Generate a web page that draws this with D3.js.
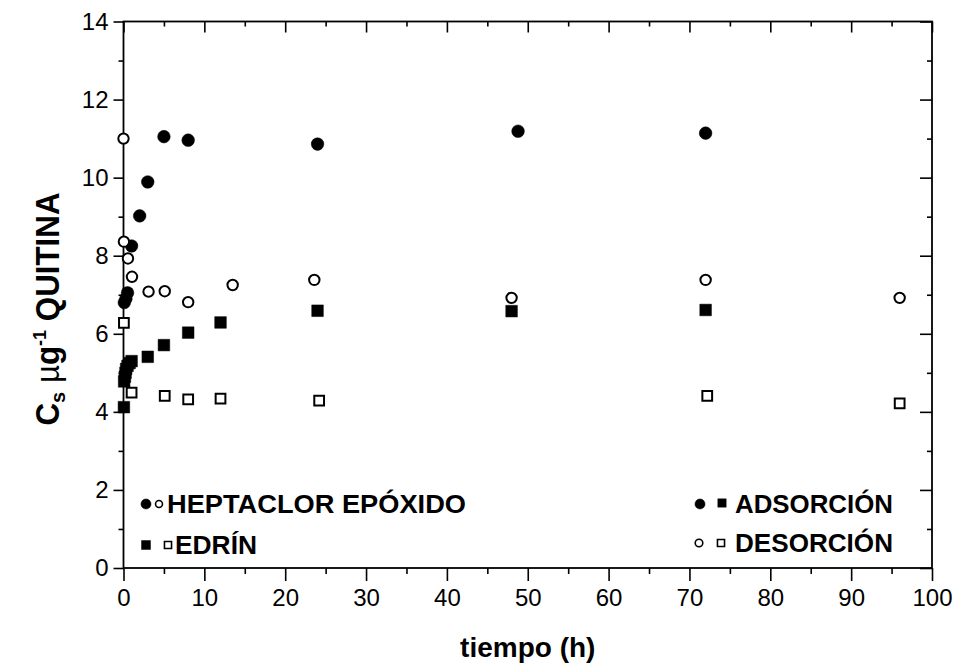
<!DOCTYPE html>
<html>
<head>
<meta charset="utf-8">
<script src="https://cdn.jsdelivr.net/npm/d3@7"></script>
<style>
  body { margin: 0; background: #fff; }
  svg { display: block; }
</style>
</head>
<body>
<svg id="chart" width="960" height="667"></svg>
<script>
// heptaclor epóxido - adsorción (filled circles)
let hepAdsT = [0.1, 0.3, 0.5, 1, 2, 3, 5, 8, 24, 48.8, 72]
let hepAdsC = [6.8, 6.9, 7.05, 8.25, 9.02, 9.89, 11.05, 10.96, 10.86, 11.19, 11.14]
// heptaclor epóxido - desorción (open circles)
let hepDesT = [0, 0.05, 0.55, 1.05, 3.1, 5.1, 8, 13.5, 23.6, 48, 72, 96]
let hepDesC = [11.0, 8.36, 7.93, 7.46, 7.08, 7.09, 6.81, 7.25, 7.38, 6.92, 7.38, 6.92]
// edrín - adsorción (filled squares)
let edrAdsT = [0.05, 0.08, 0.17, 0.25, 0.33, 0.5, 0.75, 1, 3, 5, 8, 12, 24, 48, 72]
let edrAdsC = [4.12, 4.78, 4.9, 5.0, 5.1, 5.18, 5.25, 5.3, 5.41, 5.71, 6.03, 6.29, 6.59, 6.58, 6.61]
// edrín - desorción (open squares)
let edrDesT = [0.05, 1, 5.1, 8, 12, 24.2, 72.2, 96]
let edrDesC = [6.28, 4.49, 4.41, 4.32, 4.34, 4.29, 4.41, 4.22]

let xMajor = d3.range(0, 101, 10)
let xMinor = d3.range(5, 100, 10)
let yMajor = d3.range(0, 15, 2)
let yMinor = d3.range(1, 14, 2)

let svg = d3.select('#chart')
let x = d3.scaleLinear().domain([0, 100]).range([123.5, 932])
let y = d3.scaleLinear().domain([0, 14]).range([568, 21.5])

let tickFont = '"Liberation Sans", Arial, sans-serif'
let boldFont = '"Liberation Sans", Arial, sans-serif'

function styleAxis(g, labels) {
  g.select('.domain').remove()
  g.selectAll('line').attr('stroke', '#000').attr('stroke-width', 1.6)
  g.attr('font-family', tickFont).attr('font-size', 24)
  g.selectAll('text').attr('fill', '#000')
  if (!labels) g.selectAll('text').remove()
}

// bottom
svg.append('g').attr('transform', `translate(0,${y(0)})`)
  .call(d3.axisBottom(x).tickValues(xMajor).tickSize(13).tickPadding(8))
  .call(g => styleAxis(g, true))
svg.append('g').attr('transform', `translate(0,${y(0)})`)
  .call(d3.axisBottom(x).tickValues(xMinor).tickSize(6).tickFormat(''))
  .call(g => styleAxis(g, false))
// top
svg.append('g').attr('transform', `translate(0,${y(14)})`)
  .call(d3.axisTop(x).tickValues(xMajor).tickSize(-11).tickFormat(''))
  .call(g => styleAxis(g, false))
svg.append('g').attr('transform', `translate(0,${y(14)})`)
  .call(d3.axisTop(x).tickValues(xMinor).tickSize(-5).tickFormat(''))
  .call(g => styleAxis(g, false))
// left
svg.append('g').attr('transform', `translate(${x(0)},0)`)
  .call(d3.axisLeft(y).tickValues(yMajor).tickSize(10).tickPadding(5))
  .call(g => styleAxis(g, true))
svg.append('g').attr('transform', `translate(${x(0)},0)`)
  .call(d3.axisLeft(y).tickValues(yMinor).tickSize(5).tickFormat(''))
  .call(g => styleAxis(g, false))
// right
svg.append('g').attr('transform', `translate(${x(100)},0)`)
  .call(d3.axisRight(y).tickValues(yMajor).tickSize(-12).tickFormat(''))
  .call(g => styleAxis(g, false))
svg.append('g').attr('transform', `translate(${x(100)},0)`)
  .call(d3.axisRight(y).tickValues(yMinor).tickSize(-5).tickFormat(''))
  .call(g => styleAxis(g, false))

// frame
svg.append('rect')
  .attr('x', x(0)).attr('y', y(14))
  .attr('width', x(100) - x(0)).attr('height', y(0) - y(14))
  .attr('fill', 'none').attr('stroke', '#000').attr('stroke-width', 1.8)

// series
let series = [
  { t: hepAdsT, c: hepAdsC, type: d3.symbolCircle, size: 125, fill: '#000' },
  { t: hepDesT, c: hepDesC, type: d3.symbolCircle, size: 85, fill: 'none' },
  { t: edrAdsT, c: edrAdsC, type: d3.symbolSquare, size: 135, fill: '#000' },
  { t: edrDesT, c: edrDesC, type: d3.symbolSquare, size: 95, fill: 'none' },
]

let plot = svg.append('g')
series.forEach(s => {
  let sym = d3.symbol().type(s.type).size(s.size)
  plot.append('g').selectAll('path')
    .data(s.t.map((t, i) => [t, s.c[i]]))
    .join('path')
    .attr('transform', d => `translate(${x(d[0])},${y(d[1])})`)
    .attr('d', sym())
    .attr('fill', s.fill === 'none' ? '#fff' : s.fill)
    .attr('stroke', '#000')
    .attr('stroke-width', s.fill === 'none' ? 2 : 0.5)
})

// legend
let legend = svg.append('g')
function marker(type, size, filled, cx, cy) {
  legend.append('path')
    .attr('transform', `translate(${cx},${cy})`)
    .attr('d', d3.symbol().type(type).size(size)())
    .attr('fill', filled ? '#000' : '#fff')
    .attr('stroke', '#000')
    .attr('stroke-width', filled ? 0.5 : 1.6)
}
function label(text, lx, ly, w) {
  legend.append('text')
    .attr('x', lx).attr('y', ly)
    .attr('font-family', boldFont).attr('font-weight', 'bold').attr('font-size', 26)
    .attr('textLength', w).attr('lengthAdjust', 'spacingAndGlyphs')
    .text(text)
}
marker(d3.symbolCircle, 80, true, 146, 504)
marker(d3.symbolCircle, 38, false, 159, 504)
label('HEPTACLOR EPÓXIDO', 167, 513, 299)
marker(d3.symbolSquare, 80, true, 146, 545)
marker(d3.symbolSquare, 50, false, 168, 545)
label('EDRÍN', 175, 554, 82)

marker(d3.symbolCircle, 80, true, 700, 504)
marker(d3.symbolSquare, 70, true, 722, 503)
label('ADSORCIÓN', 735, 513, 158)
marker(d3.symbolCircle, 45, false, 699, 543)
marker(d3.symbolSquare, 50, false, 721, 543)
label('DESORCIÓN', 735, 552, 158)

// axis titles
svg.append('text')
  .attr('x', x(50)).attr('y', 657)
  .attr('text-anchor', 'middle')
  .attr('font-family', boldFont).attr('font-weight', 'bold').attr('font-size', 28)
  .text('tiempo (h)')

let yTitle = svg.append('text')
  .attr('transform', 'translate(59,309) rotate(-90)')
  .attr('text-anchor', 'middle')
  .attr('font-family', boldFont).attr('font-weight', 'bold').attr('font-size', 33)
  .attr('textLength', 233).attr('lengthAdjust', 'spacingAndGlyphs')
yTitle.append('tspan').text('C')
yTitle.append('tspan').attr('font-size', 21).attr('dy', 6).text('s')
yTitle.append('tspan').attr('dy', -6).attr('font-weight', 'normal').text(' µ')
yTitle.append('tspan').text('g')
yTitle.append('tspan').attr('font-size', 19).attr('dy', -13).text('-1')
yTitle.append('tspan').attr('dy', 13).text(' QUITINA')
</script>
</body>
</html>
